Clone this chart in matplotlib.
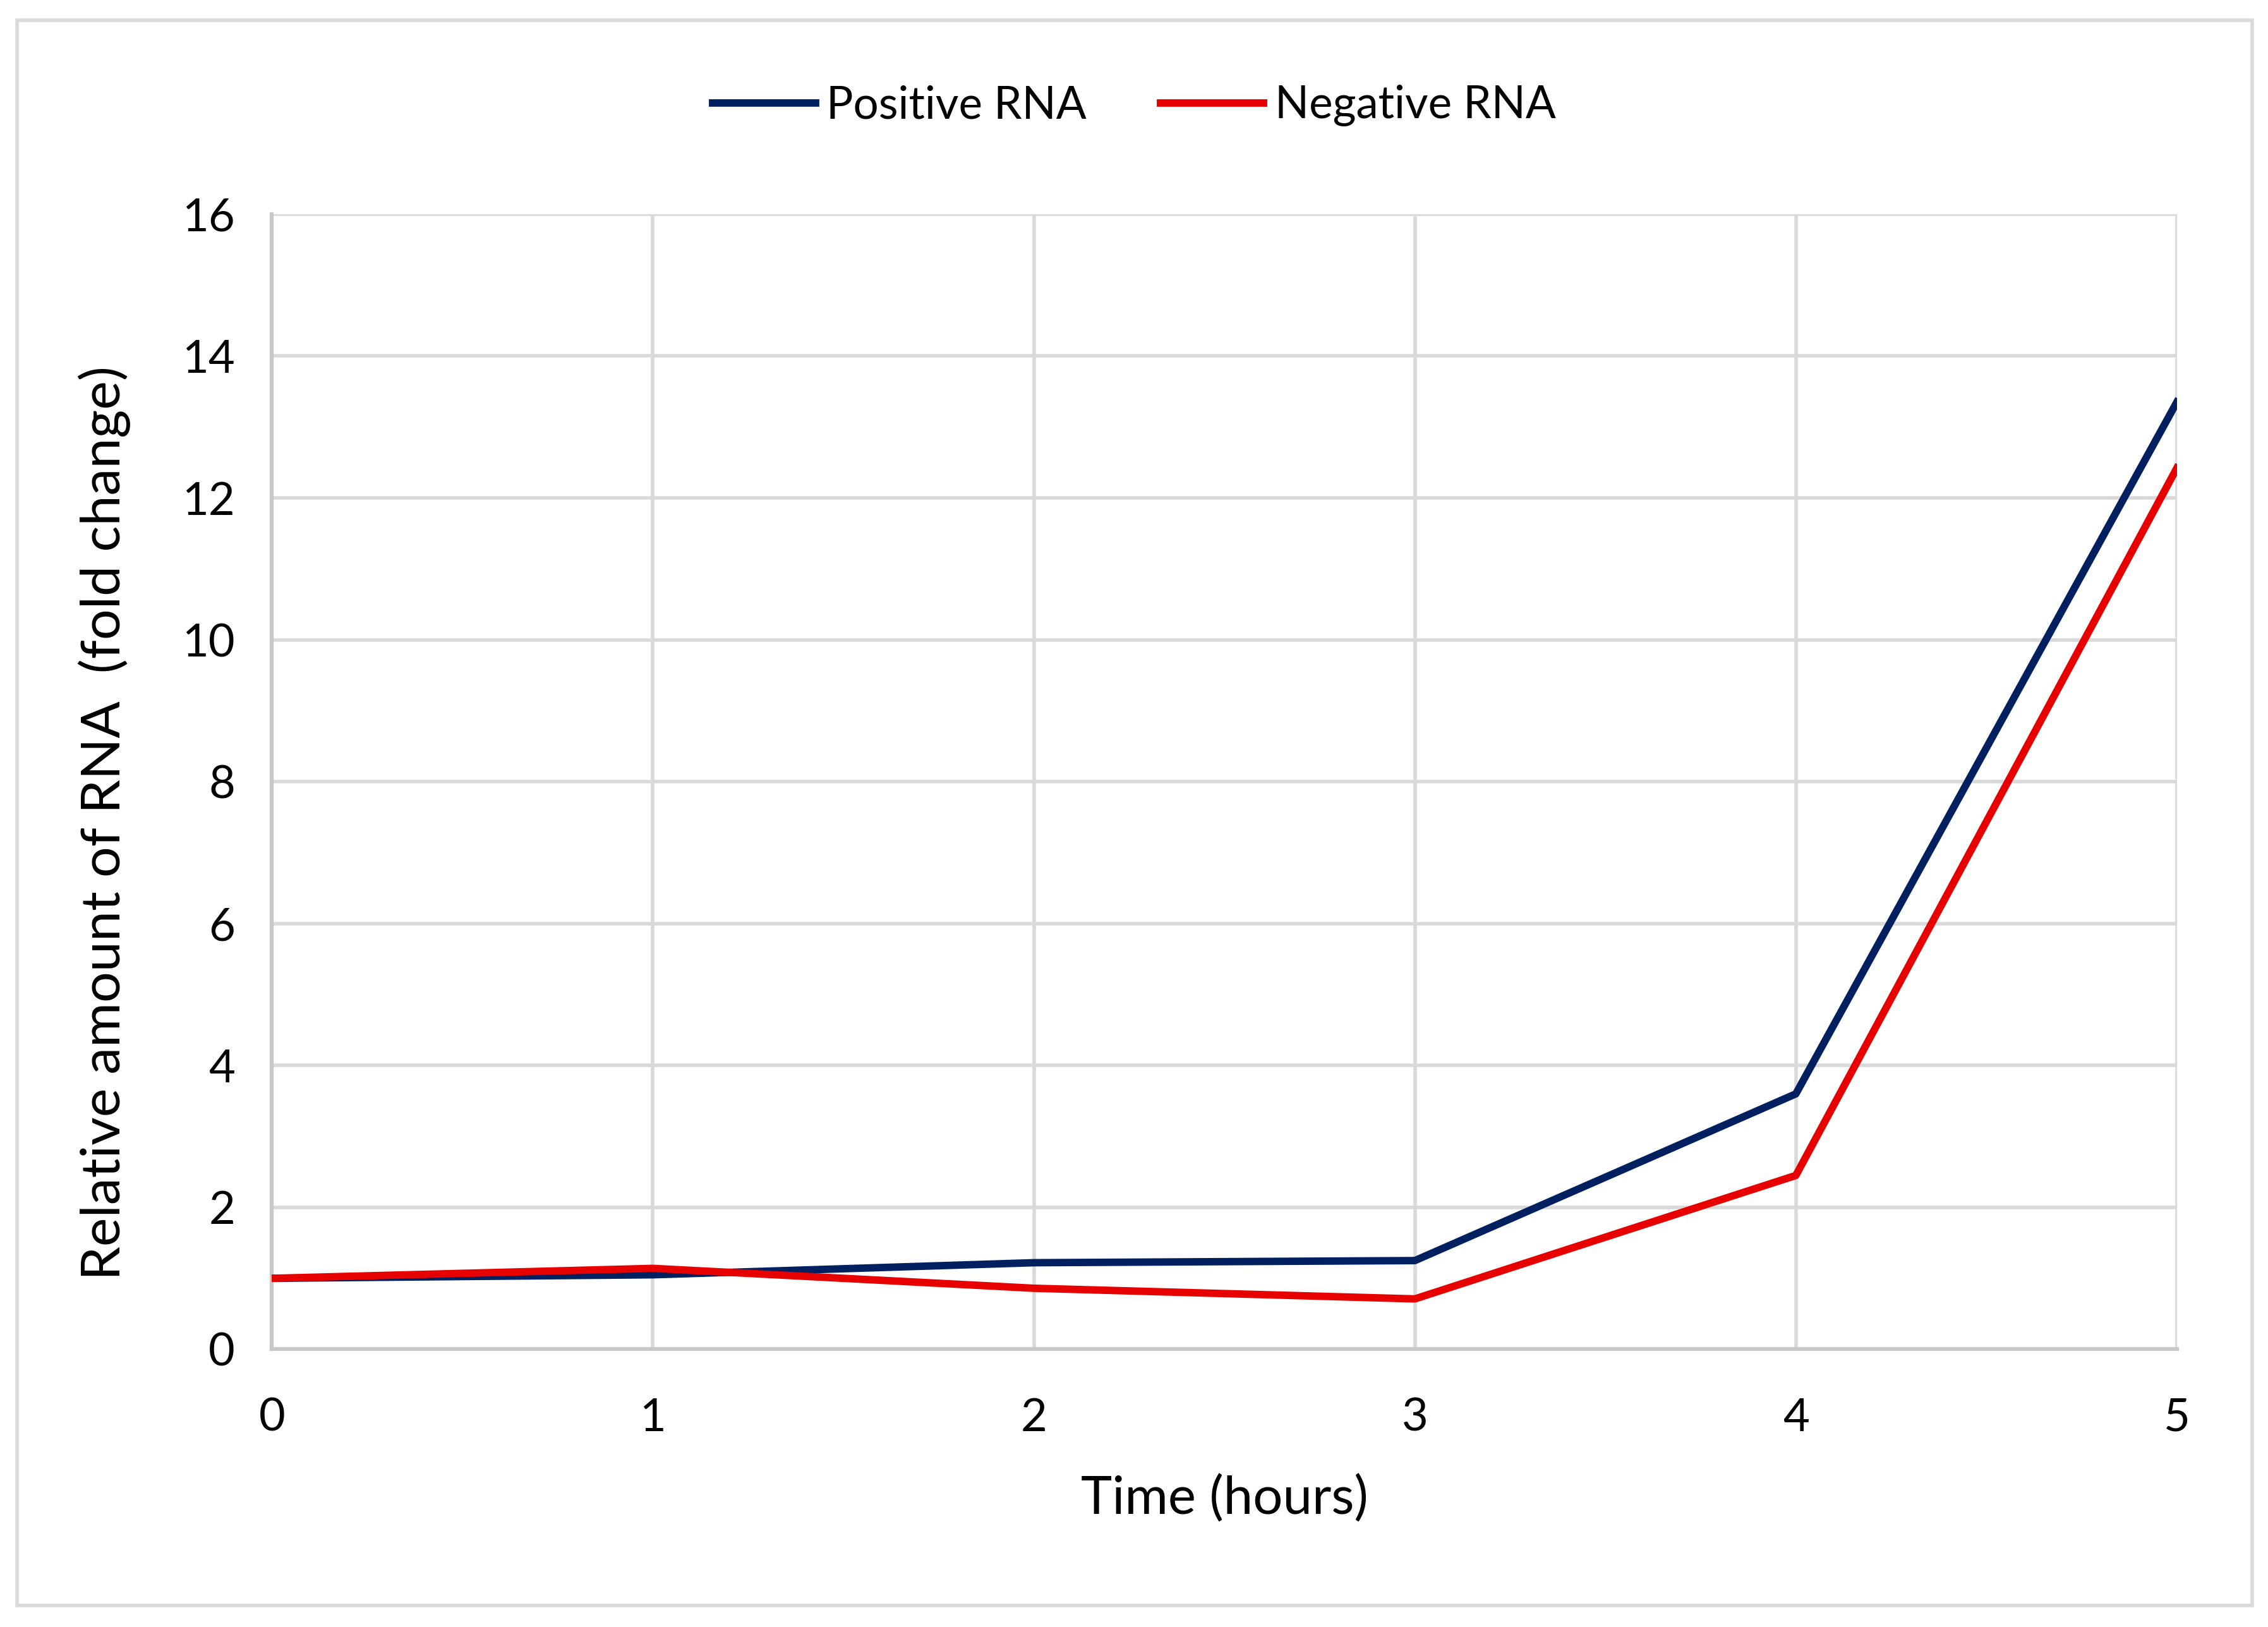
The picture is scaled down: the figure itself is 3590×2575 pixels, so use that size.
import matplotlib
matplotlib.use("Agg")
import matplotlib.pyplot as plt
from matplotlib.patches import Rectangle

hours = [0, 1, 2, 3, 4, 5]
positive_rna = [1.0, 1.05, 1.22, 1.25, 3.6, 13.35]
negative_rna = [1.0, 1.14, 0.86, 0.71, 2.45, 12.42]
y_ticks = [0, 2, 4, 6, 8, 10, 12, 14, 16]

plt.rcParams['font.family'] = ['Lato', 'DejaVu Sans']

W, H, DPI = 3590, 2575, 100
fig = plt.figure(figsize=(W / DPI, H / DPI), dpi=DPI)
fig.patch.set_facecolor('white')

# outer chart border
fig.patches.append(Rectangle((27 / W, 1 - 2541 / H), (3565 - 27) / W, (2541 - 32) / H,
                             transform=fig.transFigure, fill=False,
                             edgecolor='#d9d9d9', linewidth=4))

ax = fig.add_axes([0.1199, 0.1707, 0.9598 - 0.1199, 0.8684 - 0.1707])
ax.plot(hours, positive_rna, color='#002060', linewidth=8.5, label='Positive RNA',
        solid_joinstyle='round', zorder=3)
ax.plot(hours, negative_rna, color='#e60000', linewidth=8.5, label='Negative RNA',
        solid_joinstyle='round', zorder=3)

ax.set_xlim(0, 5)
ax.set_ylim(0, 16)
ax.set_xticks(hours)
ax.set_yticks(y_ticks)
ax.grid(True, color='#d9d9d9', linewidth=4)
ax.set_axisbelow(True)
for s in ['top', 'right']:
    ax.spines[s].set_visible(False)
for s in ['left', 'bottom']:
    ax.spines[s].set_color('#c8c8c8')
    ax.spines[s].set_linewidth(4.5)
ax.tick_params(length=0, labelsize=52, colors='#000000', pad=55)
ax.tick_params(axis='y', pad=42)

ax.set_xlabel('Time (hours)', fontsize=60, va='center')
ax.xaxis.set_label_coords(0.5, -0.1325)
ax.set_ylabel('Relative amount of RNA  (fold change)', fontsize=62, va='center')
ax.yaxis.set_label_coords(-0.088, 0.4637)

fig.legend(loc='center', bbox_to_anchor=(0.5, 0.935), ncol=2, frameon=False,
           fontsize=51, handlelength=2.3, handletextpad=0.25, columnspacing=1.65)

fig.savefig('out.png', dpi=DPI, facecolor='white')
